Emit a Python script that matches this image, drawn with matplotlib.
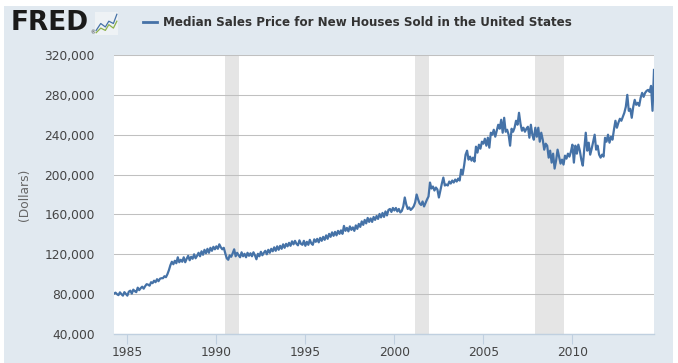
import matplotlib
matplotlib.use("Agg")
import matplotlib.pyplot as plt
import matplotlib.patches as mpatches
from matplotlib.ticker import FuncFormatter, FixedLocator
import numpy as np

# ---------------- data (thousands of dollars, monthly) ----------------
start_year, start_month = 1984, 4
v1984 = [80.5, 81.5, 80.0, 79.0, 81.8, 80.0, 78.5, 82.0, 80.3]          # Apr-Dec
v1985 = [78.5, 82.5, 83.5, 80.5, 84.5, 83.0, 82.0, 86.5, 84.0, 86.0, 87.5, 85.5]
v1986 = [88.0, 90.0, 89.5, 88.5, 92.0, 91.0, 93.5, 92.0, 95.0, 93.0, 95.5, 96.0]
v1987 = [96.0, 98.0, 97.0, 100.0, 104.0, 109.0, 112.5, 110.0, 113.5, 111.0, 117.0, 112.0]
v1988 = [114.5, 112.5, 117.0, 112.0, 115.5, 118.5, 114.0, 117.5, 115.5, 120.0, 116.0, 118.5]
v1989 = [121.5, 118.0, 123.0, 119.5, 124.5, 121.0, 125.5, 121.5, 126.5, 123.5, 127.5, 125.0]
v1990 = [128.0, 125.5, 130.0, 127.0, 125.0, 126.5, 121.0, 116.0, 114.5, 119.0, 117.5, 121.0]
v1991 = [125.0, 118.0, 121.5, 119.0, 117.0, 122.0, 118.0, 120.5, 117.0, 121.5, 118.5, 121.0]
v1992 = [118.0, 122.0, 119.0, 115.0, 120.5, 118.0, 122.5, 119.0, 121.5, 123.5, 120.0, 124.5]
v1993 = [121.5, 125.5, 123.0, 127.0, 123.5, 128.0, 124.5, 128.5, 125.5, 130.0, 126.5, 130.5]
v1994 = [128.0, 131.5, 128.5, 133.0, 130.0, 133.5, 130.5, 129.0, 134.0, 130.5, 129.5, 133.5]
v1995 = [128.5, 132.5, 129.5, 134.5, 131.0, 129.5, 135.0, 132.5, 135.5, 132.0, 136.5, 133.5]
v1996 = [137.5, 134.5, 139.0, 135.5, 140.5, 137.5, 142.0, 138.5, 142.5, 139.0, 143.5, 140.5]
v1997 = [144.0, 140.5, 148.5, 143.5, 146.5, 143.0, 148.0, 144.5, 147.0, 143.5, 149.0, 145.5]
v1998 = [150.5, 147.5, 153.0, 149.5, 154.5, 151.0, 156.5, 152.5, 156.0, 152.5, 157.5, 154.5]
v1999 = [158.5, 155.5, 160.5, 157.0, 161.5, 157.5, 163.0, 159.0, 164.5, 165.5, 162.5, 166.5]
v2000 = [164.0, 166.5, 163.0, 165.5, 162.0, 163.5, 168.0, 177.0, 170.0, 165.5, 167.0, 164.5]
v2001 = [166.0, 168.0, 172.0, 180.0, 175.0, 171.0, 169.5, 173.0, 168.0, 171.5, 175.0, 178.0]
v2002 = [192.0, 186.0, 188.0, 184.0, 187.0, 185.0, 177.0, 184.0, 191.0, 197.0, 189.0, 190.0]
v2003 = [189.0, 193.0, 191.0, 194.0, 192.0, 195.0, 193.0, 196.0, 194.0, 205.0, 200.0, 209.0]
v2004 = [220.0, 224.0, 215.0, 218.0, 214.0, 217.0, 213.0, 228.0, 222.0, 230.0, 226.0, 233.0]
v2005 = [231.0, 236.0, 229.0, 237.0, 227.0, 242.0, 240.0, 245.0, 238.0, 244.0, 250.0, 246.0]
v2006 = [255.0, 242.0, 257.0, 243.0, 245.0, 240.0, 229.0, 246.0, 243.0, 247.0, 254.0, 250.0]
v2007 = [262.0, 251.0, 244.0, 247.0, 243.0, 246.0, 248.0, 237.0, 250.0, 240.0, 235.0, 247.0]
v2008 = [238.0, 247.0, 233.0, 242.0, 235.0, 225.0, 231.0, 229.0, 217.0, 224.0, 212.0, 221.0]
v2009 = [206.0, 214.0, 225.0, 218.0, 211.0, 215.0, 210.0, 219.0, 216.0, 221.0, 218.0, 223.0]
v2010 = [230.0, 212.0, 229.0, 221.0, 230.0, 224.0, 215.0, 209.0, 226.0, 242.0, 224.0, 232.0]
v2011 = [220.0, 226.0, 233.0, 240.0, 225.0, 229.0, 220.0, 217.0, 220.0, 218.0, 237.0, 233.0]
v2012 = [240.0, 232.0, 238.0, 235.0, 245.0, 254.0, 247.0, 252.0, 256.0, 254.0, 258.0, 262.0]
v2013 = [268.0, 280.0, 264.0, 266.0, 257.0, 268.0, 275.0, 270.0, 272.0, 269.0, 277.0, 282.0]
v2014 = [278.0, 282.0, 284.0, 285.0, 283.0, 289.0, 264.0, 305.0]          # Jan-Aug

recessions = [(1990.5, 1991.25), (2001.17, 2001.92), (2007.92, 2009.5)]
y_ticks = [40000, 80000, 120000, 160000, 200000, 240000, 280000, 320000]
x_ticks = [1985, 1990, 1995, 2000, 2005, 2010]
title = "Median Sales Price for New Houses Sold in the United States"
ylabel = "(Dollars)"

values_k = (v1984 + v1985 + v1986 + v1987 + v1988 + v1989 + v1990 + v1991 + v1992 +
            v1993 + v1994 + v1995 + v1996 + v1997 + v1998 + v1999 + v2000 + v2001 +
            v2002 + v2003 + v2004 + v2005 + v2006 + v2007 + v2008 + v2009 + v2010 +
            v2011 + v2012 + v2013 + v2014)
values = np.array(values_k) * 1000.0
t = start_year + (start_month - 1) / 12.0 + np.arange(len(values)) / 12.0

# ---------------- figure ----------------
W, H = 678, 363
fig = plt.figure(figsize=(W / 100, H / 100), dpi=100, facecolor="white")

panel_color = "#e1e9f0"
panel = mpatches.Rectangle((4 / W, 0), (673 - 4) / W, (H - 6) / H,
                           transform=fig.transFigure, facecolor=panel_color,
                           edgecolor="none", zorder=-10)
fig.add_artist(panel)

ax = fig.add_axes([114 / W, 1 - 334 / H, 540 / W, 279 / H])
ax.set_zorder(1)
ax.set_facecolor("white")

for (a, b) in recessions:
    ax.axvspan(a, b, color="#e5e5e5", lw=0, zorder=1)

ax.plot(t, values, color="#4572a7", lw=1.6, zorder=3, solid_joinstyle="round")

ax.set_xlim(t[0], t[-1])
ax.set_ylim(40000, 320000)
ax.yaxis.set_major_locator(FixedLocator(y_ticks))
ax.xaxis.set_major_locator(FixedLocator(x_ticks))
ax.yaxis.set_major_formatter(FuncFormatter(lambda v, p: f"{int(v):,}"))
ax.grid(axis="y", color="#c0c0c0", lw=0.75, zorder=2)
ax.set_axisbelow(False)

for s in ["top", "right", "left"]:
    ax.spines[s].set_visible(False)
ax.spines["bottom"].set_color("#c0d0e0")
ax.spines["bottom"].set_linewidth(1.0)
ax.spines["bottom"].set_zorder(4)

ax.tick_params(axis="y", length=0, pad=14, labelsize=8.8, labelcolor="#444444")
ax.tick_params(axis="x", length=7, width=0.8, color="#c0d0e0", pad=2,
               labelsize=8.8, labelcolor="#444444")

fig.text(25 / W, 1 - 195 / H, ylabel, rotation=90, ha="center", va="center",
         fontsize=8.8, color="#666666")

# ---------------- header ----------------
fig.text(11 / W, 1 - 23 / H, "FRED", fontsize=19, fontweight="heavy",
         family="DejaVu Sans", color="#1a1a1a", ha="left", va="center")
fig.text(90 / W, 1 - 33 / H, "®", fontsize=3.5, color="#333333", ha="left", va="center")
icon = fig.add_axes([95 / W, 1 - 35 / H, 23 / W, 23 / H])
icon.set_facecolor("#eef2f5")
icon.plot([0.05, 0.25, 0.45, 0.6, 0.8, 0.95], [0.2, 0.5, 0.35, 0.6, 0.5, 0.9],
          color="#4572a7", lw=0.9)
icon.plot([0.05, 0.25, 0.45, 0.6, 0.8, 0.95], [0.1, 0.3, 0.2, 0.45, 0.3, 0.6],
          color="#8cb04a", lw=0.9)
icon.set_xlim(0, 1); icon.set_ylim(0, 1)
icon.set_xticks([]); icon.set_yticks([])
for s in icon.spines.values():
    s.set_visible(False)

fig.add_artist(plt.Line2D([143 / W, 157 / W], [1 - 22 / H, 1 - 22 / H],
                          transform=fig.transFigure, color="#4572a7", lw=2))
fig.text(163 / W, 1 - 22 / H, title, fontsize=8.55, fontweight="bold",
         family="DejaVu Sans", color="#333333", ha="left", va="center")

fig.savefig("out.png", dpi=100, facecolor="white")
